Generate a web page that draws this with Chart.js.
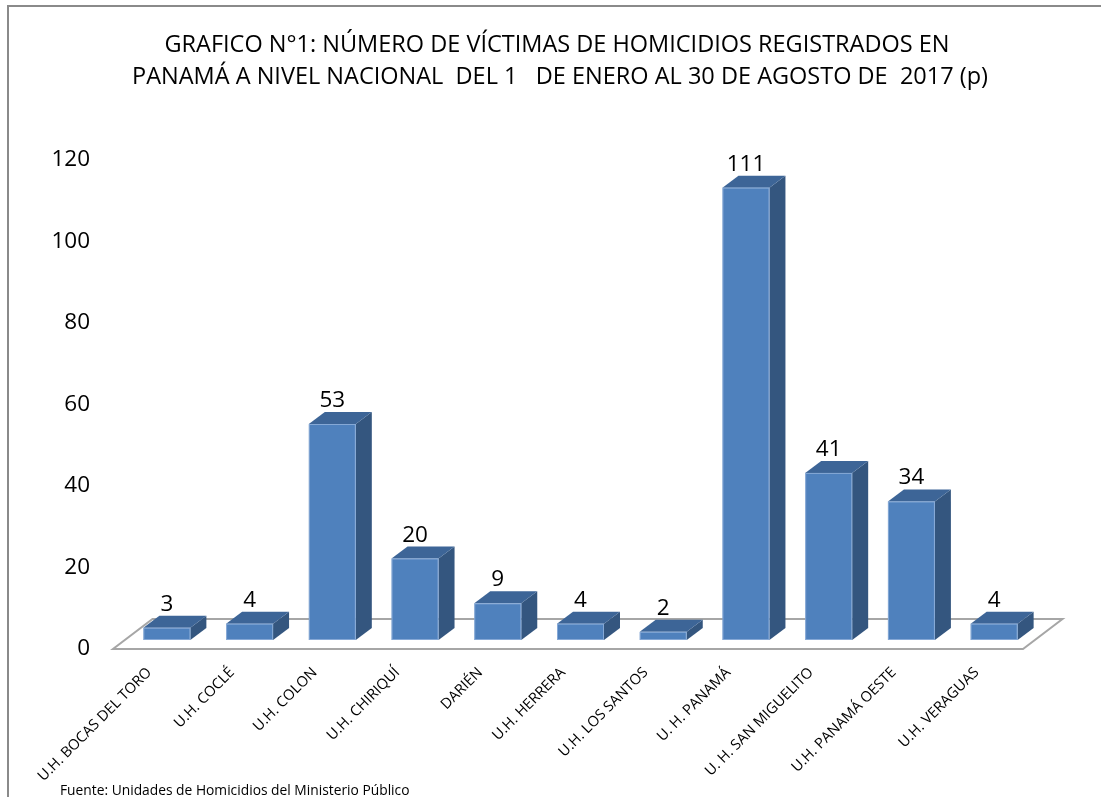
<!DOCTYPE html>
<html>
<head>
<meta charset="utf-8">
<script src="https://cdn.jsdelivr.net/npm/chart.js@4.4.0/dist/chart.umd.min.js"></script>
<style>
  html, body { margin: 0; padding: 0; background: #fff; }
  #wrap { position: absolute; left: 0; top: 0; width: 1101px; height: 797px; }
</style>
</head>
<body>
<div id="wrap"><canvas id="homicidios" width="1101" height="797"></canvas></div>
<script>
var categories = ["U.H. BOCAS DEL TORO", "U.H. COCLÉ", "U.H. COLON", "U.H. CHIRIQUÍ", "DARIÉN",
    "U.H. HERRERA", "U.H. LOS SANTOS", "U. H. PANAMÁ", "U. H. SAN MIGUELITO",
    "U.H. PANAMÁ OESTE", "U.H. VERAGUAS"];
var victims = [3, 4, 53, 20, 9, 4, 2, 111, 41, 34, 4];
var yTicks = [0, 20, 40, 60, 80, 100, 120];

var titleLines = [
    "GRAFICO N°1: NÚMERO DE VÍCTIMAS DE HOMICIDIOS REGISTRADOS EN",
    "PANAMÁ A NIVEL NACIONAL  DEL 1   DE ENERO AL 30 DE AGOSTO DE  2017 (p)"
];
var footer = "Fuente: Unidades de Homicidios del Ministerio Público";

var FONT = "'Open Sans', sans-serif";
Chart.defaults.font.family = FONT;
Chart.defaults.color = '#000';

// 3d look: bars sit a bit behind the front edge of the floor
var OFF_X = 12.5, OFF_Y = -9;   // front face shift
var DX = 16, DY = -12;          // bar depth
var FLOOR_DX = 39.5, FLOOR_DY = -30;

var frame = {
    id: 'frame',
    beforeDraw: function (chart) {
        var ctx = chart.ctx;
        ctx.save();
        ctx.strokeStyle = '#8a8a8a';
        ctx.lineWidth = 2;
        ctx.beginPath();
        ctx.moveTo(8, 820);
        ctx.lineTo(8, 6);
        ctx.lineTo(1120, 6);
        ctx.stroke();

        // title, centred on the page rather than on the plot
        ctx.fillStyle = '#000';
        ctx.font = "23.5px " + FONT;
        ctx.textAlign = 'center';
        ctx.textBaseline = 'middle';
        ctx.fillText(titleLines[0], 557, 45);
        ctx.fillText(titleLines[1], 560, 77);
        ctx.restore();
    },
    beforeDatasetsDraw: function (chart) {
        var ctx = chart.ctx;
        var a = chart.chartArea;
        var b = chart.scales.y.getPixelForValue(0);
        ctx.save();
        ctx.strokeStyle = '#a6a6a6';
        ctx.lineWidth = 2;
        ctx.fillStyle = '#fff';
        ctx.beginPath();
        ctx.moveTo(a.left, b);
        ctx.lineTo(a.right, b);
        ctx.lineTo(a.right + FLOOR_DX, b + FLOOR_DY);
        ctx.lineTo(a.left + FLOOR_DX, b + FLOOR_DY);
        ctx.closePath();
        ctx.fill();
        ctx.stroke();
        ctx.restore();
    },
    afterDraw: function (chart) {
        var ctx = chart.ctx;
        ctx.save();
        ctx.font = "13.8px " + FONT;
        ctx.fillStyle = '#000';
        ctx.textBaseline = 'alphabetic';
        ctx.fillText(footer, 60, 795);
        ctx.restore();
    }
};

var bars3d = {
    id: 'bars3d',
    afterDatasetsDraw: function (chart) {
        var ctx = chart.ctx;
        var meta = chart.getDatasetMeta(0);
        ctx.save();
        meta.data.forEach(function (el, i) {
            var x0 = el.x - el.width / 2 + OFF_X;
            var x1 = x0 + el.width;
            var top = el.y + OFF_Y;
            var bot = el.base + OFF_Y;

            ctx.lineWidth = 1;
            ctx.strokeStyle = 'rgba(170,195,230,0.6)';

            // side
            ctx.fillStyle = '#34567f';
            ctx.beginPath();
            ctx.moveTo(x1, top);
            ctx.lineTo(x1 + DX, top + DY);
            ctx.lineTo(x1 + DX, bot + DY);
            ctx.lineTo(x1, bot);
            ctx.closePath();
            ctx.fill();

            // top
            ctx.fillStyle = '#3d6597';
            ctx.beginPath();
            ctx.moveTo(x0, top);
            ctx.lineTo(x1, top);
            ctx.lineTo(x1 + DX, top + DY);
            ctx.lineTo(x0 + DX, top + DY);
            ctx.closePath();
            ctx.fill();

            // front
            ctx.fillStyle = '#4f81bd';
            ctx.fillRect(x0, top, el.width, bot - top);
            ctx.strokeRect(x0 + 0.5, top + 0.5, el.width - 1, bot - top - 1);

            // value label
            ctx.fillStyle = '#000';
            ctx.font = "22.5px " + FONT;
            ctx.textAlign = 'center';
            ctx.textBaseline = 'alphabetic';
            ctx.fillText(String(victims[i]), el.x + OFF_X, top + DY - 5);
        });
        ctx.restore();
    }
};

var ctx = document.getElementById('homicidios').getContext('2d');
var homicidiosChart = new Chart(ctx, {
    type: 'bar',
    data: {
        labels: categories,
        datasets: [{
            label: 'Víctimas',
            data: victims,
            backgroundColor: 'rgba(0,0,0,0)',
            borderWidth: 0,
            categoryPercentage: 1,
            barPercentage: 0.568
        }]
    },
    options: {
        responsive: false,
        animation: false,
        devicePixelRatio: 1,
        layout: { padding: { left: 0, right: 78, top: 160, bottom: 0 } },
        plugins: {
            legend: { display: false },
            tooltip: { enabled: false },
            title: { display: false }
        },
        scales: {
            x: {
                grid: { display: false, drawTicks: false },
                border: { display: false },
                ticks: {
                    autoSkip: false,
                    minRotation: 45,
                    maxRotation: 45,
                    padding: 15,
                    labelOffset: -5,
                    font: { size: 14.6 }
                },
                afterFit: function (scale) { scale.height = 148; }
            },
            y: {
                min: 0,
                max: 120,
                grid: { display: false, drawTicks: false },
                border: { display: false },
                afterBuildTicks: function (scale) {
                    scale.ticks = yTicks.map(function (v) { return { value: v }; });
                },
                ticks: {
                    padding: 23,
                    font: { size: 22.5 }
                },
                afterFit: function (scale) { scale.width = 113; }
            }
        }
    },
    plugins: [frame, bars3d]
});
</script>
</body>
</html>
